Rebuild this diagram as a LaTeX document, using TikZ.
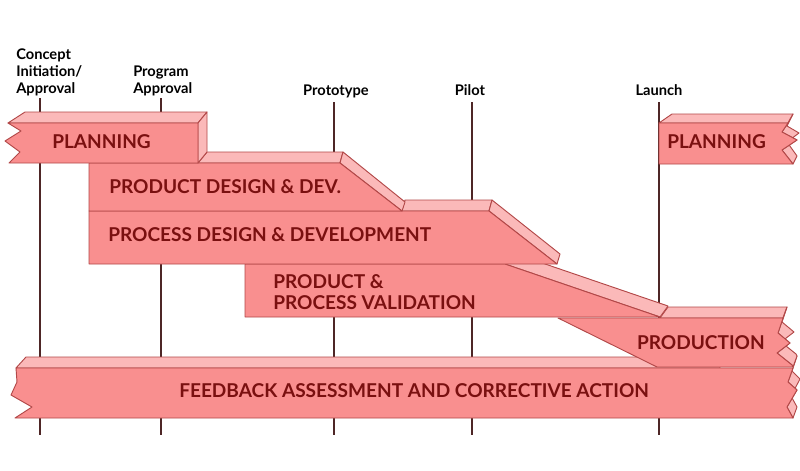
\documentclass[tikz,border=0pt]{standalone}
\usepackage{fontspec}
\setmainfont{Lato}
\definecolor{frontc}{HTML}{F98F8F}
\definecolor{topc}{HTML}{FBB9B9}
\definecolor{edgec}{HTML}{B24848}
\definecolor{txtc}{HTML}{7A1010}
\definecolor{vlinec}{HTML}{4E2626}
\tikzset{
  front/.style={fill=frontc,draw=edgec,line width=0.7pt,line join=round},
  topface/.style={fill=topc,draw=edgec,line width=0.7pt,line join=round},
  vline/.style={draw=vlinec,line width=1.1pt},
  bandtxt/.style={font=\fontsize{14.3}{15.5}\selectfont\bfseries,text=txtc,inner sep=0pt,align=left},
  mstone/.style={font=\fontsize{11}{12.75}\selectfont\bfseries,text=black,inner sep=0pt,align=left}
}
\begin{document}
\begin{tikzpicture}[x=0.75pt,y=-0.75pt]
\useasboundingbox (0,0) rectangle (800,471);
% milestone labels
\node[mstone,anchor=base west] (mconcept) at (16,93) {Concept\\Initiation/\\Approval};
\node[mstone,anchor=base west] (mprogram) at (133,93) {Program\\Approval};
\node[mstone,anchor=base] (mproto) at (336,95) {Prototype};
\node[mstone,anchor=base] (mpilot) at (470,95) {Pilot};
\node[mstone,anchor=base] (mlaunch) at (659,95) {Launch};
% vertical lines
\coordinate (l1t) at (40,98);  \coordinate (l1b) at (40,435);
\coordinate (l2t) at (161,98); \coordinate (l2b) at (161,435);
\coordinate (l3t) at (334,102); \coordinate (l3b) at (334,435);
\coordinate (l4t) at (472,102); \coordinate (l4b) at (472,435);
\coordinate (l5t) at (659,102); \coordinate (l5b) at (659,435);
\draw[vline] (l1t) -- (l1b);
\draw[vline] (l2t) -- (l2b);
\draw[vline] (l3t) -- (l3b);
\draw[vline] (l4t) -- (l4b);
\draw[vline] (l5t) -- (l5b);
% feedback band
\draw[topface] (16,368) -- (26,357) -- (720,357) -- (720,368) -- cycle;
\draw[topface] (797,356) -- (792,371) -- (800,379) -- (791,396) -- (797,407) -- (793,418) -- (787,407) -- (797,390) -- (788,382) -- (793,368) -- cycle;
\draw[front] (16,368) -- (793,368) -- (788,382) -- (797,390) -- (787,407) -- (793,418) -- (15,418) -- (32,407) -- (11,395) -- (17,382) -- cycle;
% production band
\draw[topface] (660,318) -- (668,307) -- (787,307) -- (783,318) -- cycle;
\draw[topface] (787,307) -- (782,322) -- (794,332) -- (781,342) -- (796,354) -- (797,356) -- (793,367) -- (792,365) -- (777,353) -- (790,343) -- (778,333) -- (783,318) -- cycle;
\draw[front] (558,318) -- (783,318) -- (778,333) -- (790,343) -- (777,353) -- (792,365) -- (793,367) -- (657,367) -- cycle;
% product & process validation
\draw[topface] (505,264) -- (660,317) -- (668,306) -- (513,253) -- cycle;
\draw[front] (245,264) -- (505,264) -- (660,317) -- (245,317) -- cycle;
% process design
\draw[topface] (402,211) -- (489,211) -- (492,200) -- (405,200) -- cycle;
\draw[topface] (489,211) -- (557,264) -- (560,254) -- (492,200) -- cycle;
\draw[front] (89,211) -- (489,211) -- (557,264) -- (89,264) -- cycle;
% product design
\draw[topface] (198,163) -- (340,163) -- (343,152) -- (207,152) -- cycle;
\draw[topface] (340,163) -- (402,211) -- (405,202) -- (343,152) -- cycle;
\draw[front] (89,163) -- (340,163) -- (402,211) -- (89,211) -- cycle;
% planning left
\draw[topface] (8,123) -- (25,112) -- (207,112) -- (198,123) -- cycle;
\draw[topface] (198,123) -- (207,112) -- (207,152) -- (198,163) -- cycle;
\draw[front] (8,123) -- (198,123) -- (198,163) -- (9,163) -- (20,152) -- (5,141) -- (21,131) -- cycle;
% planning right
\draw[topface] (659,123) -- (672,114) -- (793,114) -- (788,123) -- cycle;
\draw[topface] (793,114) -- (787,126) -- (799,133) -- (787,142) -- (797,156) -- (793,164) -- (782,150) -- (797,140) -- (782,132) -- (788,123) -- cycle;
\draw[front] (659,123) -- (788,123) -- (782,132) -- (797,140) -- (782,150) -- (793,164) -- (659,164) -- cycle;
% band texts
\node[bandtxt,anchor=base west] (tplan1) at (52,148) {PLANNING};
\node[bandtxt,anchor=base west] (tpdd) at (109,193) {PRODUCT DESIGN \& DEV.};
\node[bandtxt,anchor=base west] (tprd) at (108,241) {PROCESS DESIGN \& DEVELOPMENT};
\node[bandtxt,anchor=base west] (tppv1) at (273,288) {PRODUCT \&};
\node[bandtxt,anchor=base west] (tppv2) at (273,309) {PROCESS VALIDATION};
\node[bandtxt,anchor=base east] (tprod) at (765,349) {PRODUCTION};
\node[bandtxt,anchor=base west] (tfb) at (179,397) {FEEDBACK ASSESSMENT AND CORRECTIVE ACTION};
\node[bandtxt,anchor=base west] (tplan2) at (667,148) {PLANNING};
\end{tikzpicture}
\end{document}
